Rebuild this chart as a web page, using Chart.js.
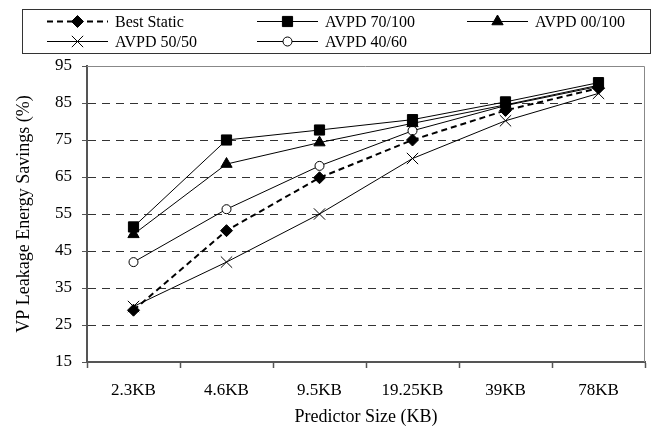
<!DOCTYPE html>
<html>
<head>
<meta charset="utf-8">
<script src="https://cdn.jsdelivr.net/npm/chart.js@4.4.0/dist/chart.umd.min.js"></script>
<style>
html,body{margin:0;padding:0;background:#fff;}
#wrap{width:654px;height:431px;position:relative;}
</style>
</head>
<body>
<div id="wrap"><canvas id="c" width="654" height="431"></canvas></div>
<script>
const categories = ['2.3KB', '4.6KB', '9.5KB', '19.25KB', '39KB', '78KB'];
const bestStatic = [29, 50.5, 64.8, 75, 83, 89];
const avpd70_100 = [51.5, 75, 77.7, 80.5, 85.3, 90.5];
const avpd00_100 = [49.5, 68.5, 74.3, 79.5, 84.5, 89.8];
const avpd50_50 = [30, 42, 55, 70, 80.2, 87.6];
const avpd40_60 = [42, 56.3, 68, 77.5, 84.3, 89.5];
const seriesNames = ['Best Static', 'AVPD 70/100', 'AVPD 00/100', 'AVPD 50/50', 'AVPD 40/60'];
const yMin = 15, yMax = 95, yStep = 10;
const xTitle = 'Predictor Size (KB)';
const yTitle = 'VP Leakage Energy Savings (%)';

const FONT = "'Liberation Serif', 'Times New Roman', serif";

const datasets = [
  {label: seriesNames[0], data: bestStatic, borderColor: '#000', borderWidth: 2, borderDash: [6, 4],
   pointStyle: 'rectRot', pointRadius: 6, pointBackgroundColor: '#000', pointBorderColor: '#000', pointBorderWidth: 1},
  {label: seriesNames[1], data: avpd70_100, borderColor: '#000', borderWidth: 1,
   pointStyle: 'rect', pointRadius: 7.2, pointBackgroundColor: '#000', pointBorderColor: '#000', pointBorderWidth: 1},
  {label: seriesNames[2], data: avpd00_100, borderColor: '#000', borderWidth: 1,
   pointStyle: 'triangle', pointRadius: 6.5, pointBackgroundColor: '#000', pointBorderColor: '#000', pointBorderWidth: 1},
  {label: seriesNames[3], data: avpd50_50, borderColor: '#000', borderWidth: 1,
   pointStyle: 'crossRot', pointRadius: 8, pointBackgroundColor: '#000', pointBorderColor: '#000', pointBorderWidth: 1},
  {label: seriesNames[4], data: avpd40_60, borderColor: '#000', borderWidth: 1,
   pointStyle: 'circle', pointRadius: 4.5, pointBackgroundColor: '#fff', pointBorderColor: '#000', pointBorderWidth: 1}
];
datasets.forEach(d => { d.fill = false; d.tension = 0; d.pointHoverRadius = d.pointRadius; });

function drawMarker(ctx, ds, x, y) {
  ctx.save();
  ctx.setLineDash([]);
  ctx.fillStyle = ds.pointBackgroundColor;
  ctx.strokeStyle = ds.pointBorderColor;
  ctx.lineWidth = ds.pointBorderWidth;
  if (Chart.helpers && Chart.helpers.drawPoint) {
    Chart.helpers.drawPoint(ctx, {pointStyle: ds.pointStyle, radius: ds.pointRadius, rotation: 0, borderWidth: ds.pointBorderWidth}, x, y);
  }
  ctx.restore();
}

const framePlugin = {
  id: 'frame',
  afterDraw(chart) {
    const ctx = chart.ctx;
    const a = chart.chartArea;
    ctx.save();
    ctx.strokeStyle = '#888';
    ctx.lineWidth = 1;
    ctx.beginPath();
    ctx.moveTo(a.left, a.top + 0.5);
    ctx.lineTo(a.right - 0.5, a.top + 0.5);
    ctx.lineTo(a.right - 0.5, a.bottom);
    ctx.stroke();
    ctx.restore();

    // legend
    const box = {x: 22, y: 9, w: 628, h: 44};
    ctx.save();
    ctx.strokeStyle = '#333';
    ctx.lineWidth = 1;
    ctx.strokeRect(box.x + 0.5, box.y + 0.5, box.w, box.h);
    const cols = [47, 257, 467];
    const rows = [21.5, 41.5];
    const sampleW = 61;
    chart.data.datasets.forEach((ds, i) => {
      const x0 = cols[i % 3];
      const y = rows[Math.floor(i / 3)];
      ctx.save();
      ctx.strokeStyle = ds.borderColor;
      ctx.lineWidth = ds.borderWidth;
      ctx.setLineDash(ds.borderDash || []);
      ctx.beginPath();
      ctx.moveTo(x0, y);
      ctx.lineTo(x0 + sampleW, y);
      ctx.stroke();
      ctx.restore();
      drawMarker(ctx, ds, x0 + sampleW / 2, y);
      ctx.fillStyle = '#000';
      ctx.font = "16px " + FONT;
      ctx.textBaseline = 'middle';
      ctx.textAlign = 'left';
      ctx.fillText(ds.label, x0 + sampleW + 7, y + 1);
    });
    ctx.restore();
  }
};

new Chart(document.getElementById('c'), {
  type: 'line',
  data: {labels: categories, datasets: datasets},
  options: {
    responsive: false,
    animation: false,
    devicePixelRatio: 1,
    layout: {padding: {top: 66, right: 5, left: 0, bottom: 0}},
    plugins: {legend: {display: false}, tooltip: {enabled: false}},
    scales: {
      x: {
        type: 'category',
        offset: true,
        afterFit(scale) { scale.height = 69; },
        grid: {display: true, drawOnChartArea: false, drawTicks: true, offset: true,
               tickLength: 6, tickColor: '#555', tickWidth: 1.5},
        border: {display: true, color: '#555', width: 2},
        ticks: {color: '#000', font: {family: FONT, size: 17}, padding: 12, maxRotation: 0, autoSkip: false},
        title: {display: true, text: xTitle, color: '#000', font: {family: FONT, size: 18},
                padding: {top: 0, bottom: 3}}
      },
      y: {
        min: yMin, max: yMax,
        afterFit(scale) { scale.width = 87; },
        afterBuildTicks(scale) {
          const t = [];
          for (let v = yMin; v <= yMax; v += yStep) t.push({value: v});
          scale.ticks = t;
        },
        grid: {
          display: true, drawOnChartArea: true, drawTicks: true, tickLength: 5,
          lineWidth: 1,
          color: (c) => (c.tick && (c.tick.value === yMin || c.tick.value === yMax)) ? 'rgba(0,0,0,0)' : '#333',
          tickColor: '#555', tickBorderDash: []
        },
        border: {display: true, color: '#555', width: 2, dash: [8, 6]},
        ticks: {color: '#000', font: {family: FONT, size: 17}, padding: 10, stepSize: yStep},
        title: {display: true, text: yTitle, color: '#000', font: {family: FONT, size: 18},
                padding: {top: 13, bottom: 0}}
      }
    }
  },
  plugins: [framePlugin]
});
</script>
</body>
</html>
